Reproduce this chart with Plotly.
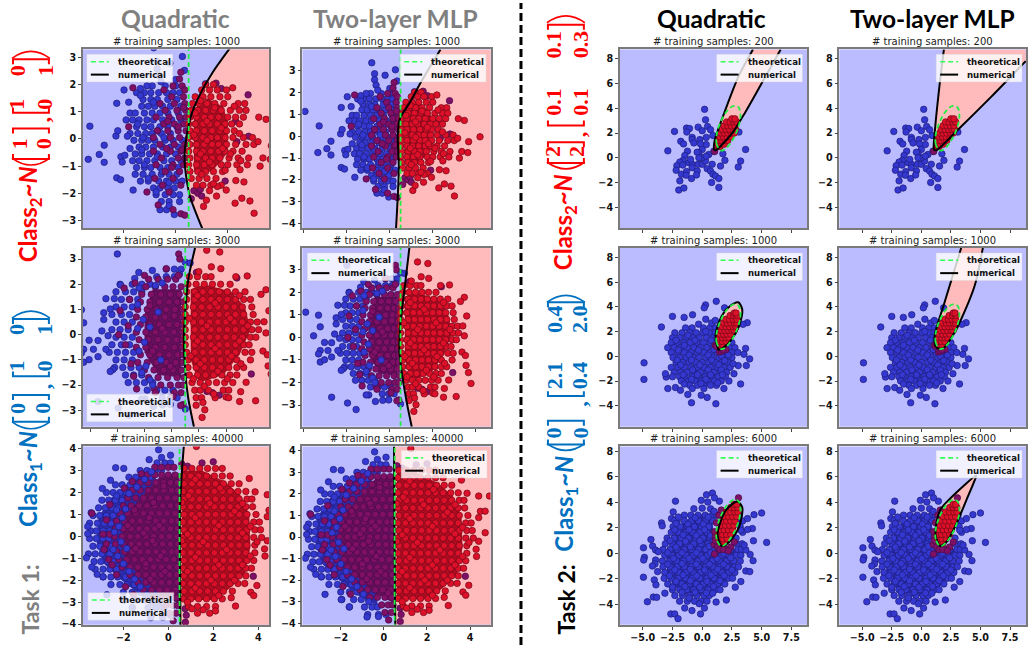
import plotly.graph_objects as go

W, H = 1028, 650
# ---------- data: each scatter is (y, [x, ...]) rows plus loose (x, y) points ----------
d1_blue_rows = [(1.95,[-.9,-.4,0]),(1.7,[-1.5,-1.2,-.95,-.65,-.35,-.1,.15]),(1.45,[-1.25,-.95,-.7,-.3,.05]),(1.2,[-1.3,-1.05,-.8,-.5,-.2,.2]),
 (.95,[-1.75,-1.55,-1.2,-.9,-.6,-.3,.1]),(.7,[-1.65,-1.4,-1.1,-.85,-.5,-.15,.2]),(.45,[-1.5,-1.2,-.95,-.6,-.3,.05]),(.2,[-1.75,-1.45,-1.15,-.9,-.55,-.2]),
 (-.05,[-1.6,-1.3,-1.05,-.8,-.4,-.1,.25]),(-.3,[-1.4,-1.15,-.85,-.5,-.2,.1]),(-.55,[-1.55,-1.3,-1,-.7,-.35,0]),(-.8,[-1.65,-1.4,-1.1,-.8,-.45,-.15,.2]),
 (-1.05,[-1.5,-1.2,-.95,-.6,-.3,.1]),(-1.3,[-1.55,-1.25,-.9,-.55,-.25,.05]),(-1.55,[-1.35,-1.05,-.65,-.35,0,.25]),(-1.8,[-.85,-.6,-.3,-.05]),(-2.05,[-.75,-.4,-.1,.15]),(-2.3,[-.55,-.25,.15])]
d1_blue_loose = [(-3.95,1.13),(-3.29,.47),(-2.74,-.23),(-2.93,-.57),(-3.35,-.75),(-2.74,-.86),(-2.29,.11),(-2.22,.3),(-2.26,1.31),(-1.98,1.8),(-1.8,1.35),(-2.26,-1.43),(-2.11,-1.5),(-1.63,-1.88),
 (-.84,3.35),(-.71,2.85),(-.22,2.78),(.26,3.03),(-.71,2.58),(-.64,2.33),(-.56,2.1),(.34,2.52),(0,2.18),(-2.1,-.65),(-1.95,-.6),(-2.05,-.85),(-1.9,.7),(-1.35,1.85),(-1.1,1.95),(-.05,-2.78),(-.35,-2.6),(-.6,-2.6),(-.25,-2.45),(1.15,2.03),
 (-1.35,1.6),(-.85,1.35),(-1.45,.55),(-.7,.3),(-1.25,.05),(-.45,.05),(-1.3,-.4),(-.7,-.65),(-1.2,-.95),(-.5,-1.2),(-1.05,-1.45),(-.75,-1.95),(-.25,-1.6),(-1.75,-.35),(-1.85,.1)]
d1_purple_rows = [(2.45,[.2]),(2.2,[.15]),(1.95,[-.1,.25]),(1.8,[-.45,.35]),(1.55,[-.15,.3]),(1.3,[-.6,-.05,.35]),(1.05,[-.4,.05,.38]),(.8,[-.75,-.25,.15,.4]),(.55,[-.45,-.05,.3]),(.3,[-.7,-.3,.1,.4]),
 (.05,[-.85,-.2,.15]),(-.2,[-.6,-.05,.35]),(-.45,[-.85,-.2,.2]),(-.7,[-.55,.1,.35]),(-.95,[-.75,-.1,.3]),(-1.2,[-.4,.15]),(-1.45,[-.8,-.1]),(-1.7,[-.5,.2]),(-1.95,[-1.1,-.25])]
d1_purple_loose = [(-1.8,.45),(-1.64,1.88),(-.67,-2.43),(-.1,-2.6),(.2,-2.75),(.35,-2.8),(.7,-1.9),(.85,-2),(1,-2.1),(.95,-1.85),(.6,-2.2),(1.55,2.05),(1.75,1.85),(2.78,1.62),(2.3,.65),(2.35,-.1),(2.8,.1),(1.9,-1.55),(-.3,.65),(.25,-.4),(-.15,-1.05),(.3,1.15),(.1,.45),(-.35,-.35)]
d1_red_rows = [(2,[1.15,1.45]),(1.8,[1,1.3,1.6,1.95]),(1.55,[.75,1.05,1.35,1.7,2]),(1.3,[.65,.9,1.2,1.5,1.85,2.4,2.65]),(1.05,[.6,.85,1.15,1.45,1.75,2.1,2.45,2.7]),(.8,[.55,.8,1.1,1.35,1.65,2,2.3,2.6]),
 (.55,[.5,.75,1.05,1.3,1.6,1.9,2.15,2.45]),(.3,[.55,.8,1.1,1.4,1.7,1.95,2.25]),(.05,[.5,.75,1.05,1.35,1.6,1.9,2.2,2.6,2.95]),(-.2,[.55,.8,1.1,1.4,1.65,1.95,2.3,2.7,3]),(-.45,[.5,.8,1.05,1.35,1.65,1.9,2.2,2.55]),
 (-.7,[.55,.85,1.15,1.4,1.7,2.05,2.4,2.8,3.35]),(-.95,[.5,.8,1.1,1.4,1.75,2,2.35,2.75]),(-1.2,[.55,.85,1.15,1.45,1.8]),(-1.45,[.6,.9,1.2,1.55]),(-1.7,[.8,1.05,1.35,1.75])]
d1_red_loose = [(2.19,1.88),(3.19,.8),(3.47,.72),(4.2,-.03),(3.67,-.25),(3.16,-.1),(3.63,-.75),(3.24,-1),(3.01,-2.73),(2.85,-2.28),(2.54,-2.18),(2.28,-2.36),(1.07,-2.48),(1.18,-2.25),(1.57,-2.1),(1.94,-1.88),(2.31,-1.53),(2.62,-1.58),(2.47,-1.13),(1.3,-1.9),(1.6,-1.75),
 (.95,1.4),(1.5,1.15),(.75,.95),(2.25,1.2),(1.2,.65),(1.75,.4),(.7,.15),(2.45,.2),(1.2,-.05),(1.8,-.35),(.95,-.55),(2.5,-.8),(1.3,-.85),(1.9,-1.15),(1,-1.3),(1.45,-1.65),(2.1,-.55)]
d1_back_red = ([.7,1.2,1.8,2,2,1.4,.7],[1.1,1.5,1.2,.7,-.5,-1.2,-1.2])

d2_blue_rows = [(2.6,[-.2,.1,.35]),(2.3,[-.55,-.2,.1]),(2,[-1.9,-1.45,-1.1,-.8]),(1.7,[-2.05,-1.7,-1.4,-1.1]),(1.4,[-1.85,-1.55,-1.25]),(1.1,[-2.05,-1.75,-1.45]),(.8,[-2.2,-1.85,-1.55]),(.5,[-2.05,-1.75,-1.45]),
 (.2,[-2.2,-1.9,-1.6]),(-.1,[-2.05,-1.75,-1.45]),(-.4,[-2.2,-1.85,-1.55]),(-.7,[-2.3,-2,-1.7,-1.4]),(-1,[-2.05,-1.75,-1.45]),(-1.3,[-2.1,-1.8,-1.5,-1.2]),(-1.6,[-1.7,-1.4,-1.1]),(-1.9,[-1.6,-1.3,-1,-.7]),(-2.2,[-.9,-.55,-.25,.05]),(-2.5,[-.35,-.05,.2])]
d2_blue_loose = [(-3.92,1.12),(-3.32,.99),(-3.24,.47),(-3.55,.07),(-3.04,-.22),(-2.71,-.23),(-2.88,-.58),(-3.24,-.58),(-3.32,-.73),(-3.24,-1.09),(-3.04,-.99),(-2.71,-.87),(-2.71,-2.65),(-1.97,-2.91),(-1.57,-3.2),(-.98,-2.55),(-1.1,-2.55),
 (-.67,-2.84),(-.33,-2.79),(-.05,-2.77),(-2,3.2),(-1.21,2.47),(-.71,2.55),(-1.36,2.23),(-1.88,1.97),(-2.42,1.43),(-2.11,1.43),(-2.5,.87),(-2.26,1.02),(-2.5,.6),(-2.57,.15),(-2.34,-.04),(-2.42,-.58),(-2.16,-1.38),(-2.26,-1.46),(.29,2.4),(.5,2.87),(.68,2.84),(.5,-2.95)]
d2_blue_over = [(-1.2,1.85),(-1.25,1.2),(-1.05,.6),(-1.25,.25),(-1,-.3),(-1.2,-.65),(-.95,-1.25),(-1.1,-1.5),(-.8,-1.8),(-.6,1.95),(-.35,2.05),(-.7,-2),(-.5,.9),(-.8,.3),(-.4,-1)]
d2_purple_rows = [(2.2,[-.85,-.5,-.15,.15]),(1.9,[-.95,-.6,-.25,.05,.35]),(1.6,[-1.1,-.75,-.4,-.05,.28]),(1.3,[-1.15,-.8,-.45,-.1,.2,.42]),(1,[-1.25,-.9,-.55,-.2,.12,.4]),(.7,[-1.3,-.95,-.6,-.25,.08,.38]),(.4,[-1.15,-.8,-.45,-.1,.2,.42]),
 (.1,[-1.3,-.95,-.6,-.25,.08,.38]),(-.2,[-1.2,-.85,-.5,-.15,.18,.4]),(-.5,[-1.3,-.95,-.6,-.25,.1,.38]),(-.8,[-1.15,-.8,-.45,-.1,.22,.42]),(-1.1,[-1.25,-.9,-.55,-.2,.15,.4]),(-1.4,[-1,-.65,-.3,.05,.35]),(-1.7,[-.85,-.5,-.15,.2,.45]),(-2,[-.4,-.05,.25,.42]),(-2.3,[.1,.35])]
d2_purple_loose = [(.26,3.2),(.3,3),(-.2,2.62),(.42,-2.77),(.33,-2.81),(-.64,-2.14),(-1.29,-2.15),(-1.95,0),(-1.75,1.85),(.91,2.47),(2.93,-1.56),(1.3,-2.25),(1.5,-2.3),(1.75,-2.4),(2.4,2.25),
 (-1.55,1.4),(-1.6,.35),(-1.7,-.4),(-1.5,-1.15),(-1.9,.95),(-1.35,2.05),(-1.4,-1.65),(-1,2.35),(-.6,-2.3),(-.35,.25),(.1,.75),(-.7,-.65),(-.05,-1.25),(-.8,1.15),(.25,2.35),(.05,-2.45)]
d2_red_rows = [(2.3,[.65,.95,1.25]),(2,[.6,.9,1.2,1.5,1.8,2.15]),(1.7,[.55,.85,1.15,1.45,1.75,2.05,2.35,2.7]),(1.4,[.55,.85,1.15,1.45,1.75,2.05,2.35,2.65,2.9]),(1.1,[.5,.8,1.1,1.4,1.7,2,2.3,2.6,2.95]),
 (.8,[.5,.85,1.15,1.45,1.75,2.05,2.35,2.65,3]),(.5,[.5,.8,1.1,1.4,1.7,2,2.3,2.6,2.9,3.15]),(.2,[.5,.85,1.15,1.45,1.75,2.05,2.35,2.65,2.95,3.2]),(-.1,[.5,.8,1.1,1.4,1.7,2,2.3,2.6,2.9,3.1]),(-.4,[.5,.85,1.15,1.45,1.75,2.05,2.35,2.65,2.85]),
 (-.7,[.55,.85,1.15,1.45,1.75,2.05,2.35,2.7,2.95]),(-1,[.6,.9,1.2,1.5,1.8,2.1,2.4,2.9]),(-1.3,[.6,.9,1.2,1.5,1.8,2.1,2.4,2.65]),(-1.6,[.65,.95,1.25,1.55,1.85,2.15,2.4]),(-1.9,[.75,1.05,1.35,1.65,1.95,2.25]),(-2.2,[.85,1.05,1.9,2.1,1.35]),(-2.5,[.9,1.1,1.6])]
d2_red_loose = [(1.29,3.35),(1.77,3.28),(1.46,2.69),(1.81,2.62),(2.36,2.3),(2.78,2.33),(3.47,1.78),(3.29,1.6),(3.58,.95),(3.4,.51),(3.47,.07),(3.36,-.65),(3.52,-.8),(3.55,-1.24),(3.66,-1.56),(3.78,-2.04),(3.09,-2.62),(2.5,-2.65),(2.54,-2.26),(2.74,-1.89),(2,-2.47),(1.12,-3.28),(1.22,-2.98),(1.15,-2.69),(.9,-2.8),
 (1,2.5),(1.45,2.3),(.95,1.55),(1.6,1.25),(2.5,1.55),(.65,.65),(2.15,.65),(1.3,.35),(2.8,.35),(.95,-.25),(2.5,-.25),(1.6,-.55),(.7,-.85),(2.2,-.85),(1.05,-1.15),(2.55,-1.15),(1.7,-1.45),(.8,-1.75),(2.05,-1.75),(1.2,-2.05),(1.55,-2.35),(2.1,-2.5)]
d2_back_red = ([.7,1.2,2.2,2.7,2.9,2.5,1.9,1,.7],[1.8,2,1.7,1.1,.2,-.8,-1.6,-1.9,-1])
d2_back_purple = ([-.7,.35,.35,-.5,-1,-1],[1.8,1.8,-1.7,-1.6,-.7,.8])

d3_blue_rows = [(3.35,[-.5,-.15,.1]),(3,[-1.25,-.95,-.6,-.3]),(2.7,[-1.75,-1.45,-1.1,-.8]),(2.35,[-2.35,-2.05,-1.7,-1.4]),(2,[-2.75,-2.45,-2.15,-1.85]),(1.65,[-2.95,-2.65,-2.35,-2.05]),(1.3,[-3.1,-2.8,-2.5,-2.2]),(.95,[-3.35,-3.05,-2.75,-2.45]),
 (.6,[-3.5,-3.15,-2.85,-2.55]),(.25,[-3.45,-3.2,-2.9,-2.6]),(-.1,[-3.5,-3.2,-2.9,-2.65]),(-.45,[-3.35,-3.05,-2.8,-2.55]),(-.8,[-3.55,-3.25,-2.95,-2.6]),(-1.15,[-3.3,-3,-2.7,-2.45]),(-1.5,[-3.25,-2.9,-2.6,-2.3]),(-1.85,[-2.9,-2.55,-2.25,-1.9]),(-2.2,[-2.55,-2.15,-1.85,-1.5]),(-2.55,[-2,-1.6,-1.25]),(-2.9,[-1.95,-1.4,-1.05,-.7]),(-3.25,[-1.6,-.9,-.55,-.3]),(-3.6,[-.75,-.25,.1])]
d3_blue_loose = [(-.43,3.95),(-2.34,3.13),(-1.98,3.1),(-2.57,2.56),(-2.93,2.18),(-3.43,1.08),(-3.58,.45),(-3.58,.12),(-3.64,-.98),(-3.4,-1.4),(-3.16,-1.73),(-2.9,-1.84),(-2.73,-2.66),(-1.98,-2.9),(-1.6,-3.24),(-.78,-3.71),(-.25,-3.69),(-.85,3.5),(-.3,3.6),(.1,3.7)]
d3_blue_over = [(-2.3,1.85),(-2.05,.85),(-2.2,.45),(-2.1,-.25),(-2.25,-.9),(-2,-1.25),(-1.75,-1.6),(-1.5,-1.95),(-1.25,-2.3),(-.95,-2.65),(-.7,-3),(-1.4,2.25),(-1.75,1.95),(-1.05,2.6),(-.75,2.95),(-1.9,1.25),(-1.85,-.55),(-2.4,.2),(-2.45,-.6),(-2.3,1.2)]
d3_purple_rows = [(3.15,[-.6,-.3,0,.25]),(2.8,[-.95,-.6,-.3,0,.3]),(2.45,[-1.25,-.9,-.55,-.2,.1,.4]),(2.1,[-1.6,-1.25,-.9,-.55,-.2,.15,.42]),(1.75,[-1.8,-1.45,-1.1,-.75,-.4,-.05,.3]),(1.4,[-2,-1.65,-1.3,-.95,-.6,-.25,.1,.42]),(1.05,[-2.15,-1.8,-1.45,-1.1,-.75,-.4,-.05,.3]),
 (.7,[-2.3,-1.95,-1.6,-1.25,-.9,-.55,-.2,.15,.42]),(.35,[-2.35,-2,-1.65,-1.3,-.95,-.6,-.25,.1,.4]),(0,[-2.4,-2.05,-1.7,-1.35,-1,-.65,-.3,.05,.38]),(-.35,[-2.35,-2,-1.65,-1.3,-.95,-.6,-.25,.1,.42]),(-.7,[-2.3,-1.95,-1.6,-1.25,-.9,-.55,-.2,.15,.4]),(-1.05,[-2.2,-1.85,-1.5,-1.15,-.8,-.45,-.1,.25]),
 (-1.4,[-2.05,-1.7,-1.35,-1,-.65,-.3,.05,.4]),(-1.75,[-1.7,-1.35,-1,-.65,-.3,.05,.38]),(-2.1,[-1.35,-1,-.65,-.3,.05,.4]),(-2.45,[-1.1,-.75,-.4,-.05,.3]),(-2.8,[-.65,-.3,.05,.35]),(-3.15,[-.1,.2,.42]),(-3.5,[.05,.35]),(-3.85,[.22])]
d3_purple_loose = [(-3.4,1.05),(-2.6,.1),(-2.75,-.35),(-2.65,-1.05),(.76,-3.92),(.75,-3.3),(.8,-3.6),(3.78,-1.82),(.6,3.3),(.85,3.2),(1.5,3.35),(2,3.4),
 (-2.6,1.45),(-2.75,.75),(-2.9,.1),(-2.85,-.6),(-2.5,-1.3),(-2.3,-1.75),(-1.9,-2.3),(-1.55,-2.65),(-1.95,2.2),(-1.6,2.5),(-1.2,2.85),(-1.5,1.2),(-.85,.85),(-.4,.5),(-1.1,.15),(-.7,-.2),(-1.45,-.55),(-.35,-.9),(-1,-1.25),(-.15,-1.6),(-.8,-1.95),(-.2,2.3),(-.65,1.55),(.2,-2.6),(-1.8,.5)]
d3_red_rows = [(3.1,[.7,1.05,1.4,1.75,2.1,2.4]),(2.75,[.65,1,1.35,1.7,2.05,2.4,2.75]),(2.4,[.7,1.05,1.4,1.75,2.1,2.45,2.8,3.15]),(2.05,[.65,1,1.35,1.7,2.05,2.4,2.75,3.1,3.45]),(1.7,[.7,1.05,1.4,1.75,2.1,2.45,2.8,3.15,3.5,3.72]),(1.35,[.65,1,1.35,1.7,2.05,2.4,2.75,3.1,3.45,3.75]),
 (1,[.7,1.05,1.4,1.75,2.1,2.45,2.8,3.15,3.5,3.9]),(.65,[.65,1,1.35,1.7,2.05,2.4,2.75,3.1,3.45,3.8,4.05]),(.3,[.7,1.05,1.4,1.75,2.1,2.45,2.8,3.15,3.5,3.85,4.1]),(-.05,[.65,1,1.35,1.7,2.05,2.4,2.75,3.1,3.45,3.8,4.15]),(-.4,[.7,1.05,1.4,1.75,2.1,2.45,2.8,3.15,3.5,3.85]),(-.75,[.65,1,1.35,1.7,2.05,2.4,2.75,3.1,3.45,3.85]),
 (-1.1,[.7,1.05,1.4,1.75,2.1,2.45,2.8,3.15,3.5,3.8]),(-1.45,[.65,1,1.35,1.7,2.05,2.4,2.75,3.1,3.45,3.7]),(-1.8,[.7,1.05,1.4,1.75,2.1,2.45,2.8,3.15,3.45]),(-2.15,[.65,1,1.35,1.7,2.05,2.4,2.75,3.1,3.4]),(-2.5,[.7,1.05,1.4,1.75,2.1,2.45,2.85]),(-2.85,[.65,1,1.35,1.7,2.05,2.4]),(-3.2,[.9,1.3,1.7,2.1]),(-3.5,[1.3])]
d3_red_loose = [(1.25,4.1),(3.6,2.64),(3.86,2.03),(4.4,1.9),(4.9,1.9),(4.48,1.19),(4.7,1.2),(4.4,.9),(4.7,.2),(4.4,-.2),(4.28,-.57),(4.3,-.9),(3.94,-2.24),(3.67,-2.55),(3.8,-2.7),(2.99,-3.18),(2.8,-2.8),(1.84,-3.5),(2.1,-3.4),
 (1.2,2.6),(2.3,2.2),(.9,1.85),(1.85,1.5),(2.95,1.15),(1.2,.85),(2.25,.5),(3.3,.15),(.85,.1),(1.55,-.25),(2.6,-.6),(3.65,-.9),(1.2,-.95),(2.25,-1.3),(.85,-1.6),(1.9,-2),(2.95,-2),(1.2,-2.35),(2.25,-2.7),(.85,-3),(3.3,1.5),(3.65,.45),(3.95,-.25),(3.3,-1.3),(.6,-.2),(.6,1.55),(1.55,-3.35),(1.05,-3.3)]
d3_back_red = ([.6,1.5,2.5,3.2,3.6,3.65,3.4,2.7,1.9,.6],[3,3,2.5,1.9,1,-.5,-1.7,-2.4,-2.9,-2.9])
d3_back_purple = ([.5,-.4,-1.2,-1.9,-2.05,-1.9,-1.2,-.4,.5],[2.9,2.7,1.8,.9,0,-1.1,-1.9,-2.6,-3.1])
d3_back_blue = ([-.6,-1.6,-2.5,-3.1,-3.2,-2.9,-2.2,-1.2,-.3,-.3],[3,2.6,1.8,.9,-.2,-1.2,-1.9,-2.7,-3.2,0])

d4_blue_loose = [(-2.89,.56),(-2.33,2.13),(-1.32,2.4),(-1.07,2.37),(-1.29,2.08),(-1.8,1.33),(-1.57,1.12),(-.34,2.48),(0,2.19),(.28,3.07),(.2,3.92),(.45,2.53),(.7,2.27),(.9,1.81),(-.84,1.65),(-.84,1.47),(-.7,1.2),(-.2,1.47),(.34,1.65),(.34,1.07),(-.14,1.12),(0,.67),(-.28,.4),(-.42,.45),(-1.24,.53),(-1.46,.19),(-1.6,-.21),(-1.88,-.35),(-2.13,-.64),(-2.19,-1.01),(-1.63,-.59),(-1.12,-.4),(-.84,-.53),(-.34,-.53),(-.84,-.8),(-.42,-1.07),(0,-.53),(.28,-.27),(.42,-.88),(.56,.27),(.98,.53),(.84,-.53),(.7,-1.07),(.9,-1.33),(1.12,-1.47),(1.54,-.67),(1.91,-.21),(1.74,.32),(3.23,-.27),(3.03,-.75),(3.65,.67),(3.09,2.08),(1.4,-1.68),(.79,-2),(1.4,-2.4),(-1.97,-2.61),(-1.54,-2.45),(-1.88,-1.87),(-1.74,-1.33),(-1.32,-1.12),(-1.35,-1.41),(-.9,-1.68),(-.48,-1.39),(0,0),(.34,.13),(-.28,0),(-.98,-.13)]
d4_purple_loose = [(1.05,.5)]
d4_red_rows = [(.9,[1.35,1.5]),(1.1,[1.3,1.6,1.85]),(1.4,[1.35,1.65,1.95,2.15]),(1.7,[1.5,1.8,2.1,2.4]),(2,[1.55,1.85,2.15,2.45,2.7]),(2.3,[1.7,2,2.3,2.6,2.8]),(2.6,[1.85,2.15,2.45,2.75]),(2.9,[2.05,2.35,2.65,2.9]),(3.15,[2.5,2.75])]
d4_back_red = ([1.4,1.5,2.3,2.8,2.6,1.9],[1,2,3,2.9,1.9,1.1])

d5_blue_rows = [(2.3,[-1.4,-.85,.1,.65,1.1]),(1.9,[-2.3,-1.7,-1.05,-.5,.05,.6,1.1]),(1.5,[-2.5,-1.9,-1.35,-.8,-.25,.35,.9]),(1.1,[-2.6,-2.1,-1.55,-1,-.45,.1,.65,1.1,2.5]),(.7,[-2.9,-2.35,-1.8,-1.25,-.7,-.15,.4,.95,2.3,2.75]),(.3,[-2.6,-2.05,-1.5,-.95,-.4,.15,.7,1.25,1.9,2.5,3]),
 (-.1,[-2.45,-1.9,-1.35,-.8,-.25,.3,.85,1.4,1.95,2.5]),(-.5,[-2.2,-1.65,-1.1,-.55,0,.55,1.1,1.65,2.2]),(-.9,[-2.6,-2.05,-1.5,-.95,-.4,.15,.7,1.25,1.8,2.35]),(-1.3,[-2.35,-1.8,-1.25,-.7,-.15,.4,.95,1.5,2.05]),(-1.65,[-2.5,-1.9,-1.45,-.85,-.3,.25,.8,1.35,1.95]),(-2,[-1.75,-1.15,-.6,-.05,.5,1.05,1.6]),(-2.35,[-1.05,-.4,.15,.7,1.2])]
d5_blue_loose = [(-4.89,-.53),(-4.9,-1.87),(-3.43,2.37),(-2.5,3.23),(-1.52,3.15),(-.81,3.36),(.28,4.16),(.17,3.92),(1.18,4.45),(1.88,3.92),(3.79,2.72),(3.43,2.59),(3.65,.64),(3.51,.16),(3.99,-.21),(3.71,-.75),(3.03,-.75),(3.23,-2.24),(2.67,-1.41),(2.25,-2),(1.83,-2.61),(1.15,-3.84),(-.9,-3.76),(.42,-3.33),(-.08,-3.15),(.14,-2.61),(-2.89,-2.61),(-2.25,-2.53),(-1.83,-2.75),(-1.21,-3.09),(-.84,-2.61),(-3.03,-1.68),(-3.09,-1.41),(.8,2.7),(.3,3),(-.3,2.6),(1.1,2.9),
 (-2.2,1.3),(-1.2,1.7),(.3,2),(-.6,1.3),(.75,1.3),(-1.5,.9),(-.3,.5),(1,.55),(-2,.5),(-1.1,.1),(.5,.1),(1.6,.05),(2.2,.1),(-2.1,-.3),(-.9,-.3),(.8,-.3),(1.9,-.35),(-1.8,-.7),(-.2,-.7),(1.4,-.7),(2.6,-.6),(-.8,-1.1),(.5,-1.1),(1.6,-1.1),(-1.6,-1.5),(-.4,-1.5),(.7,-1.5),(1.7,-1.5),(-.9,-1.85),(.3,-1.85),(1.3,-2.15),(-.1,-2.2),(-1.5,-2.25)]
d5_purple_loose = [(1.1,.9),(1.45,.35),(1.6,.4),(2,.55),(1.2,.8),(1.75,.5)]
d5_red_rows = [(.9,[1.5,1.75]),(1.2,[1.4,1.7,2]),(1.5,[1.4,1.7,2,2.25]),(1.8,[1.5,1.8,2.1,2.4]),(2.1,[1.6,1.9,2.2,2.5,2.7]),(2.4,[1.7,2,2.3,2.6,2.85]),(2.7,[1.8,2.1,2.4,2.7,2.9]),(3,[2,2.3,2.6,2.9]),(3.3,[2.35,2.65,2.9]),(3.5,[2.7,2.85])]
d5_back_red = ([1.45,1.55,2.2,2.85,2.75,2.2,1.7],[1,2,3.2,3.2,2.3,1.5,1])

d6_blue_rows = [(3,[-1.5,-.95,-.35,.25,.85,1.2,3.1]),(2.55,[-2.1,-1.5,-.9,-.3,.3,.9,3,3.4]),(2.1,[-2.45,-1.85,-1.25,-.65,-.05,.55,3.2]),(1.65,[-2.6,-2,-1.4,-.8,-.2,.4,.95,3.4]),(1.2,[-2.95,-2.35,-1.75,-1.15,-.55,.05,.65,2.85]),(.75,[-3.1,-2.5,-1.9,-1.3,-.7,-.1,.5,2.9,3.35]),(.3,[-3.3,-2.7,-2.1,-1.5,-.9,-.3,.3,.85,2.4,3,3.3]),
 (-.15,[-3.15,-2.55,-1.95,-1.35,-.75,-.15,.45,1.05,1.65,2.25,2.85,3.25]),(-.6,[-3.35,-2.75,-2.15,-1.55,-.95,-.35,.25,.85,1.45,2.05,2.65,3.2]),(-1.05,[-3.3,-2.7,-2.1,-1.5,-.9,-.3,.3,.9,1.5,2.1,2.7,3.05]),(-1.5,[-3.15,-2.55,-1.95,-1.35,-.75,-.15,.45,1.05,1.65,2.25,2.75]),(-1.95,[-3.2,-2.6,-2,-1.4,-.8,-.2,.4,1,1.6,2.2,2.55]),(-2.4,[-2.9,-2.3,-1.7,-1.1,-.5,.1,.7,1.3,1.9]),(-2.85,[-2.5,-1.9,-1.3,-.7,-.1,.5,1.1,1.5]),(-3.3,[-2.3,-1.65,-1.05,-.45,.15,.6]),(-3.75,[-1.9,-1.25,-.65,-.1,.4])]
d6_blue_loose = [(-4.94,.44),(-4.86,-.31),(-4.92,-.52),(-4.94,-1.87),(-4.61,-3.79),(-4.11,-3.43),(-3.83,-3.45),(-2.64,-4.75),(-2.31,-4.75),(-2.03,-5.12),(-.14,-4.75),(-.86,-4.49),(.19,-4.29),(-1.47,-4.29),(-2.25,4.1),(-2.44,3.25),(-2.58,2.73),(-2.31,2.6),(-3.42,2.39),(-3.36,2.16),(-4.31,1.09),(-4.17,.57),(-3.92,.26),(-3.69,.13),(-3.92,-.52),(-3.97,-.83),(-4.19,-.99),(-3.75,-1.43),(-4.03,-2.08),(-3.89,-2.47),(-3.14,-3.12),(.36,4.6),(.86,4.73),(-.08,4.16),(.47,4.03),(1.44,4.1),(1.03,4.36),(4.36,3.04),(5,3.17),(3.81,2.73),(4.22,1.95),(3.81,1.87),(4.31,.99),(5.42,.86),(4.03,-.08),(4.28,-.57),(3.67,-1.38),(4,-1.43),(3.25,-2.21),(2.78,-2.65),(2.03,-3.66),(1.17,-3.82),(.89,-3.12),(3.67,.26),(3.53,.65),(3.25,1.82),(-.7,3.5),(0,3.55),(.7,3.5),(1,3.3),
 (-2,2.85),(-.6,2.8),(.5,2.85),(-2.2,2.35),(-1.2,2.3),(.1,2.3),(-2.3,1.85),(-1.1,1.85),(.2,1.85),(-1.6,1.45),(-.5,1.4),(.7,1.4),(-2.7,1),(-1.4,.95),(-.2,1),(.9,.95),(-2.2,.5),(-1,.5),(.6,.55),(-2.9,.05),(-1.7,.05),(-.5,.05),(.7,.05),(1.8,0),(-2.4,-.4),(-1.1,-.4),(.05,-.4),(1.25,-.4),(2.4,-.35),(-2.9,-.85),(-1.7,-.8),(-.5,-.85),(.6,-.85),(1.8,-.85),(-2.3,-1.3),(-1,-1.25),(.2,-1.3),(1.3,-1.25),(2.5,-1.3),(-2.75,-1.75),(-1.6,-1.7),(-.45,-1.75),(.75,-1.7),(1.85,-1.75),(-2.2,-2.2),(-1,-2.15),(.4,-2.2),(1.5,-2.15),(-2.5,-2.65),(-1.45,-2.6),(-.2,-2.65),(.95,-2.6),(-1.7,-3.05),(-.6,-3.05),(.35,-3.1),(-1.1,-3.5),(-.25,-3.95)]
d6_purple_loose = [(1,.7),(1.3,.5),(1.03,-.05),(1.5,.3),(2,.35),(2.4,.5),(1.1,1.3),(1.05,1.7),(1.2,2.4),(1.4,3),(1.6,3.4),(3.05,4.36),(2.7,.9),(1.1,1),(1.8,.3),(2.2,.2)]
d6_red_rows = [(.85,[1.55,1.85]),(1.15,[1.4,1.75,2.1]),(1.5,[1.35,1.7,2.05,2.4]),(1.85,[1.5,1.85,2.2,2.55]),(2.2,[1.6,1.95,2.3,2.65]),(2.55,[1.7,2.05,2.4,2.75]),(2.9,[1.85,2.2,2.55,2.9]),(3.25,[2.05,2.4,2.75,3]),(3.6,[2.4,2.7,3]),(3.85,[2.7,2.9])]
d6_back_red = ([1.4,1.55,2.2,2.9,3.05,2.85,2.3,1.8],[.9,2.1,3.5,3.9,3,2,1.2,.8])
d6_back_blue = ([-1.2,-.2,.8,1,1.3,2.2,2.8,2.9,2.6,1.7,.4,-1,-2.1,-2.95,-3,-2.6,-2.1],[2.7,3.1,2.9,1.5,.3,.2,.4,-.8,-1.5,-2.5,-3.3,-3.4,-2.8,-1.7,-.3,1,2])

# decision boundaries and theoretical curves, in data units
b11_x=[2.13,1.43,.92,.6,.41,.34,.41,.56,1.07]; b11_y=[3.4,2.46,1.61,.88,.04,-.69,-1.42,-2.14,-3.4]
b12_x=[2.36,1.46,.91,.48,.37,.42,.29]; b12_y=[3.96,2.48,1.5,.83,.08,-1.43,-4.2]
b21_x=[.86,.61,.49,.45,.5,.61,.82]; b21_y=[3.44,2.18,.75,-.17,-1.48,-2.52,-3.65]
b22_x=[.91,.68,.48,.45,.6,.81,1.02]; b22_y=[3.97,2.11,.51,-.66,-1.82,-2.98,-3.96]
b31_x=[.69,.61,.52,.52,.54]; b31_y=[4.1,3,1.2,-1.05,-4.05]
b32_x=[.47,.48,.5,.53]; b32_y=[4.2,2,-1,-4.07]
b13_x=[4.27,3.03,1.74,1.05,1.01,1.12,2.53,3.65,5.06,6.6]; b13_y=[8.77,6.53,3.33,1.4,.67,.61,2,3.73,6.13,8.77]
b14_x=[1.91,1.54,1.12,1.07,1.26,3.09,5.9,8.82]; b14_y=[8.77,5.87,1.87,.67,.61,2.27,4.93,7.81]
b14_close_x=[8.82]; b14_close_y=[8.77]
b23_x=[1.4,1.12,1.63,2.39,3.03,3.37,3.09,2.39,1.69,1.4]; b23_y=[.53,1.65,3.25,4.11,4.37,3.79,2.45,1.25,.64,.53]
b24_x=[3.37,1.91,1.12,1.26,1.83,2.81,4.49,5.2]; b24_y=[8.77,4.19,1.65,.72,.64,1.92,5.65,8.77]
b33_x=[1.63,1.29,1.97,2.95,3.37,3.09,2.25,1.63]; b33_y=[.6,1.53,3.35,4.08,3.61,2.05,.88,.6]
b34_x=[4.64,2.42,1.58,1.19,1.58,2.14,2.97,3.8,4.5,4.64]; b34_y=[6.1,4.29,3.38,1.56,.6,.91,2.34,4.16,5.71,6.1]
t1_theory_x=[.5,.5]; t1_theory_y=[-5,5]
t2_theory_x=[1.55,1.22,1.22,1.55,2.1,2.65,3.05,3.22,3.05,2.65,2.15,1.8,1.55]; t2_theory_y=[.6,1.1,1.9,2.9,3.8,4.2,4.1,3.4,2.5,1.6,.9,.62,.6]

titles = ["Quadratic","Two-layer MLP","Quadratic","Two-layer MLP"]
samples = [["1000","1000","200","200"],["3000","3000","1000","1000"],["40000","40000","6000","6000"]]
legend_labels = ["theoretical","numerical"]

# ---------- layout constants ----------
cols=[(83,270),(303,491.5),(621,809),(841,1028)]
rows_px=[(47,228),(248,429),(449,629.5)]
xr={(0,0):(-3.56,3.6),(1,0):(-3.27,3.6),(2,0):(-3.8,4.5),(0,1):(-4.07,4.69),(1,1):(-4.07,4.69),(2,1):(-3.78,4.95)}
yr={(0,0):(-3.28,3.29),(1,0):(-3.65,3.44),(2,0):(-4.03,4.1),(0,1):(-4.2,3.96),(1,1):(-3.96,3.97),(2,1):(-4.07,4.2)}
for r in range(3):
    for c in (2,3):
        xr[(r,c)]=(-6.93,8.85)
        yr[(r,c)]=(-5.6,8.39) if r==2 else (-5.7,8.77)
xtick={(0,0):[-2,0,2],(1,0):[-3,-2,-1,0,1,2,3],(2,0):[-2,0,2,4],(0,1):[-4,-2,0,2,4],(1,1):[-4,-2,0,2,4],(2,1):[-2,0,2,4]}
ytick={(0,0):[-3,-2,-1,0,1,2,3],(1,0):[-3,-2,-1,0,1,2,3],(2,0):[-4,-3,-2,-1,0,1,2,3,4],(0,1):[-4,-3,-2,-1,0,1,2,3],(1,1):[-3,-2,-1,0,1,2,3],(2,1):[-4,-3,-2,-1,0,1,2,3,4]}
legend_px={(0,0):(87,52),(0,1):(401,52),(1,0):(87,396),(1,1):(308,253),(2,0):(88,597),(2,1):(402,453),
           (0,2):(718,52),(1,2):(718,253),(2,2):(718,453),(0,3):(938,52),(1,3):(938,253),(2,3):(938,453)}
MARK={'blue':('#3438d0','#1c1c78'),'purple':('#7f1066','#470a48'),'over':('#3438d0','#1c1c78'),'red':('#dc1028','#70081a')}
BG_B,BG_R='#bbbbff','#ffbbbb'
GREEN='#22ee44'

def px(x): return x/W
def py(y): return 1-y/H
def unrow(rows,loose=()):
    xs=[x for y,r in rows for x in r]+[p[0] for p in loose]
    ys=[y for y,r in rows for _ in r]+[p[1] for p in loose]
    return xs,ys

DR='#b00c20'
datasets={
 (0,'t1'):dict(blue=unrow(d1_blue_rows,d1_blue_loose),purple=unrow(d1_purple_rows,d1_purple_loose),red=unrow(d1_red_rows,d1_red_loose),back=[(d1_back_red,DR)]),
 (1,'t1'):dict(blue=unrow(d2_blue_rows,d2_blue_loose),purple=unrow(d2_purple_rows,d2_purple_loose),over=unrow([],d2_blue_over),red=unrow(d2_red_rows,d2_red_loose),back=[(d2_back_purple,'#66105c'),(d2_back_red,DR)]),
 (2,'t1'):dict(blue=unrow(d3_blue_rows,d3_blue_loose),purple=unrow(d3_purple_rows,d3_purple_loose),over=unrow([],d3_blue_over),red=unrow(d3_red_rows,d3_red_loose),back=[(d3_back_blue,'#2c2cac'),(d3_back_purple,'#66105c'),(d3_back_red,DR)]),
 (0,'t2'):dict(blue=unrow([],d4_blue_loose),purple=unrow([],d4_purple_loose),red=unrow(d4_red_rows),back=[(d4_back_red,DR)]),
 (1,'t2'):dict(blue=unrow(d5_blue_rows,d5_blue_loose),purple=unrow([],d5_purple_loose),red=unrow(d5_red_rows),back=[(d5_back_red,DR)]),
 (2,'t2'):dict(blue=unrow(d6_blue_rows,d6_blue_loose),purple=unrow([],d6_purple_loose),red=unrow(d6_red_rows),back=[(d6_back_blue,'#2c2cac'),(d6_back_red,DR)]),
}
bounds={(0,0):(b11_x,b11_y),(0,1):(b12_x,b12_y),(1,0):(b21_x,b21_y),(1,1):(b22_x,b22_y),(2,0):(b31_x,b31_y),(2,1):(b32_x,b32_y),
        (0,2):(b13_x,b13_y),(0,3):(b14_x,b14_y),(1,2):(b23_x,b23_y),(1,3):(b24_x,b24_y),(2,2):(b33_x,b33_y),(2,3):(b34_x,b34_y)}

fig=go.Figure()
layout={}
anns=[];shapes=[]
for r in range(3):
    for c in range(4):
        i=r*4+c+1
        xa,ya=f'x{i}',f'y{i}'
        xk,yk=f'xaxis{i}',f'yaxis{i}'
        common=dict(showgrid=False,zeroline=False,showline=True,mirror=True,linecolor='#7a7a7a',linewidth=1.6,ticks='outside',ticklen=3,tickwidth=1,tickcolor='#444',
                    tickfont=dict(family='DejaVu Sans',size=9.6,color='#111',weight=700))
        layout[xk]=dict(domain=[px(cols[c][0]),px(cols[c][1])],range=list(xr[(r,c)]),anchor=ya,
                        tickvals=xtick.get((r,c),[-5,-2.5,0,2.5,5,7.5]),showticklabels=(r==2),tickformat=('.1f' if c>=2 else 'd'),**common)
        layout[yk]=dict(domain=[py(rows_px[r][1]),py(rows_px[r][0])],range=list(yr[(r,c)]),anchor=xa,
                        tickvals=ytick.get((r,c),[-4,-2,0,2,4,6,8]),tickformat='d',**common)
        ds=datasets[(r,'t1' if c<2 else 't2')]
        bx,by=bounds[(r,c)]
        xl,yl=xr[(r,c)],yr[(r,c)]
        curved=dict(shape='spline',smoothing=.8)
        if c<2:
            fx=bx+[xl[1]+2,xl[1]+2]; fy=by+[by[-1],by[0]]
        elif (r,c)==(0,3):
            fx=bx+b14_close_x; fy=by+b14_close_y
        else:
            fx,fy=bx,by
        fig.add_trace(go.Scatter(x=fx,y=fy,mode='lines',fill='toself',fillcolor=BG_R,line=dict(width=0,shape='linear' if (c<2 or (r,c)==(0,3)) else 'spline',smoothing=.8),xaxis=xa,yaxis=ya,showlegend=False,hoverinfo='skip'))
        for (qx,qy),col in ds['back']:
            fig.add_trace(go.Scatter(x=qx,y=qy,mode='lines',fill='toself',fillcolor=col,line=dict(width=0),xaxis=xa,yaxis=ya,showlegend=False,hoverinfo='skip'))
        for key in ('blue','purple','over','red'):
            if key in ds:
                fig.add_trace(go.Scatter(x=ds[key][0],y=ds[key][1],mode='markers',marker=dict(size=6.5,color=MARK[key][0],line=dict(color=MARK[key][1],width=.7)),xaxis=xa,yaxis=ya,showlegend=False,hoverinfo='skip'))
        tx,ty=(t1_theory_x,t1_theory_y) if c<2 else (t2_theory_x,t2_theory_y)
        fig.add_trace(go.Scatter(x=bx,y=by,mode='lines',line=dict(color='black',width=2,**curved),xaxis=xa,yaxis=ya,showlegend=False,hoverinfo='skip'))
        fig.add_trace(go.Scatter(x=tx,y=ty,mode='lines',line=dict(color=GREEN,width=1.8,dash='5px,3px',shape='linear' if c<2 else 'spline'),xaxis=xa,yaxis=ya,showlegend=False,hoverinfo='skip'))
        anns.append(dict(x=px((cols[c][0]+cols[c][1])/2),y=py(rows_px[r][0]-8),xref='paper',yref='paper',text=f'# training samples: {samples[r][c]}',showarrow=False,
                         font=dict(family='DejaVu Sans',size=10,color='#222'),xanchor='center',yanchor='middle'))
        lx,ly=legend_px[(r,c)]
        shapes.append(dict(type='rect',xref='paper',yref='paper',x0=px(lx),x1=px(lx+86),y0=py(ly),y1=py(ly+28),fillcolor='rgba(255,255,255,.8)',line=dict(color='rgba(215,215,215,.8)',width=.5),layer='above'))
        shapes.append(dict(type='line',xref='paper',yref='paper',x0=px(lx+4),x1=px(lx+22),y0=py(ly+7.5),y1=py(ly+7.5),line=dict(color='#33ff55',width=1.6,dash='5px,3px'),layer='above'))
        shapes.append(dict(type='line',xref='paper',yref='paper',x0=px(lx+4),x1=px(lx+22),y0=py(ly+20.5),y1=py(ly+20.5),line=dict(color='black',width=2),layer='above'))
        for k,lab in enumerate(legend_labels):
            anns.append(dict(x=px(lx+29),y=py(ly+7.5+13*k),xref='paper',yref='paper',text=f'<b>{lab}</b>',showarrow=False,xanchor='left',yanchor='middle',
                             font=dict(family='DejaVu Sans',size=8.6,color='#111')))

for (c,col,cx) in ((0,'#808080',176),(1,'#808080',396),(2,'#000000',713),(3,'#000000',934)):
    anns.append(dict(x=px(cx),y=py(16),xref='paper',yref='paper',text=f'<b>{titles[c]}</b>',showarrow=False,xanchor='center',yanchor='middle',font=dict(family='Lato',size=24.5,color=col)))

def rot(text,x,y,size,color,family='Lato'):
    anns.append(dict(x=px(x),y=py(y),xref='paper',yref='paper',text=text,showarrow=False,textangle=-90,xanchor='center',yanchor='middle',font=dict(family=family,size=size,color=color)))
def path(d,color,w=2):
    shapes.append(dict(type='path',xref='paper',yref='paper',path=d,line=dict(color=color,width=w),layer='above'))
def bracket(cx,y,d,color,half=18):
    path(f'M {px(cx-half)} {py(y-5*d)} L {px(cx-half)} {py(y)} L {px(cx+half)} {py(y)} L {px(cx+half)} {py(y-5*d)}',color)
def paren(cx,y,d,color,half=19):
    path(f'M {px(cx-half)} {py(y-7*d)} Q {px(cx)} {py(y+7*d)} {px(cx+half)} {py(y-7*d)}',color,1.6)
SER='Liberation Serif'
def formula(color,cls,cx,clsy,mx,cells,comma,brs,prs):
    rot(f'<b>Class<sub>{cls}</sub>~<i>N</i></b>',cx,clsy,24,color)
    for t,x,y in cells: rot(f'<b>{t}</b>',x,y,22,color,SER)
    rot('<b>,</b>',comma[0],comma[1],22,color,SER)
    for y,d in brs: bracket(mx,y,d,color)
    for y,d in prs: paren(mx,y,d,color)

RED_T,BLUE_T='#ff0000','#0070c0'
formula(RED_T,2,29,214,31,[('1',19,142),('0',43,142),('1',17,102),('0',45,102),('0',17,68),('1',45,68)],(43,118),[(158,1),(127,-1),(111,1),(57,-1)],[(164,1),(49,-1)])
formula(BLUE_T,1,29,482,31,[('0',18,410),('0',43,410),('1',17,367),('0',45,367),('0',17,330),('1',45,330)],(43,388),[(424,1),(397,-1),(378,1),(320,-1)],[(431,1),(312,-1)])
formula(RED_T,2,565,222,567,[('2',553,150),('2',577,150),('0.1',555,100),('0.1',582,100),('0.1',555,42),('0.3',582,42)],(579,133),[(162,1),(141,-1),(124,1),(22,-1)],[(168,1),(13,-1)])
formula(BLUE_T,1,567,507,567,[('0',555,435),('0',582,435),('2.1',555,377),('0.4',580,377),('0.4',555,320),('2.0',580,320)],(580,406),[(447,1),(423,-1),(398,1),(303,-1)],[(453,1),(296,-1)])
rot('<b>Task 1:</b>',30,604,23,'#808080')
rot('<b>Task 2:</b>',567,604,23,'#000000')

shapes.append(dict(type='line',xref='paper',yref='paper',x0=px(522),x1=px(522),y0=0,y1=1,line=dict(color='black',width=3,dash='8px,4px'),layer='above'))

fig.update_layout(width=W,height=H,margin=dict(l=0,r=0,t=0,b=0),paper_bgcolor='white',plot_bgcolor=BG_B,showlegend=False,annotations=anns,shapes=shapes,**layout)
fig.write_html("out.html",post_script="document.body.style.margin='0';document.body.style.overflow='hidden';",config={'displayModeBar':False})
